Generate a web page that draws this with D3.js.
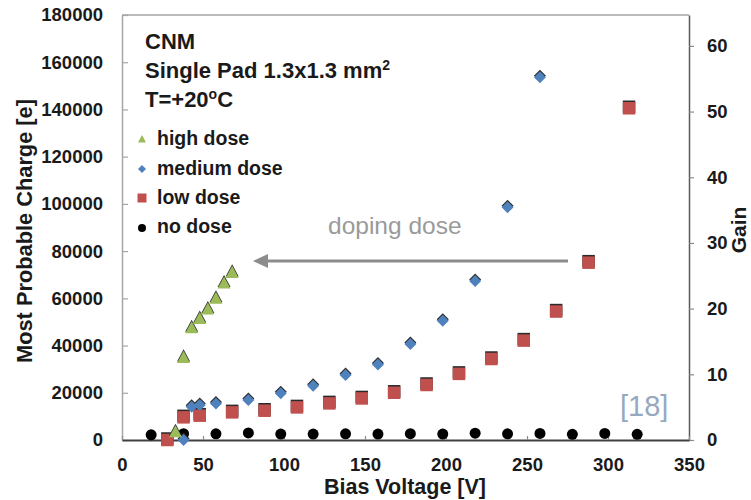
<!DOCTYPE html>
<html>
<head>
<meta charset="utf-8">
<script src="https://cdn.jsdelivr.net/npm/d3@7"></script>
<style>
  html, body { margin: 0; padding: 0; background: #fff; }
  svg { display: block; }
  text { font-family: "Liberation Sans", Arial, sans-serif; }
</style>
</head>
<body>
<svg id="chart" width="751" height="500"></svg>
<script>
// ---- data ----
const voltHigh   = [33, 38, 43, 48, 53, 58, 63, 68];
const chargeHigh = [3500, 35000, 47500, 51500, 55500, 60000, 66500, 71000];

const voltMedium   = [38, 43, 48, 58, 78, 98, 118, 138, 158, 178, 198, 218, 238, 258];
const chargeMedium = [0, 14100, 14800, 15500, 16900, 19800, 23000, 27500, 32000, 40700, 50500, 67300, 98600, 153600];

const voltLow   = [28, 38, 48, 68, 88, 108, 128, 148, 168, 188, 208, 228, 248, 268, 288, 313];
const chargeLow = [0, 9600, 10300, 11700, 12400, 13800, 15500, 17600, 20000, 23300, 28000, 34300, 42100, 54400, 75100, 140500];

const voltNone   = [18, 38, 58, 78, 98, 118, 138, 158, 178, 198, 218, 238, 258, 278, 298, 318];
const chargeNone = [2200, 2700, 2600, 3000, 2500, 2500, 2600, 2500, 2700, 2500, 2900, 2600, 2800, 2400, 2800, 2400];

const xTicks    = [0, 50, 100, 150, 200, 250, 300, 350];
const yTicks    = [0, 20000, 40000, 60000, 80000, 100000, 120000, 140000, 160000, 180000];
const gainTicks = [0, 10, 20, 30, 40, 50, 60];
const xMax = 350, yMax = 180000, gainMax = 64.7;

const seriesNames  = ["high dose", "medium dose", "low dose", "no dose"];
const seriesColors = ["#9bbb59", "#4f81bd", "#c0504d", "#000000"];
const seriesShapes = ["triangle", "diamond", "square", "circle"];

// ---- layout ----
const L = 122, R = 689, T = 15, B = 440;
const svg = d3.select("#chart");
const x  = d3.scaleLinear().domain([0, xMax]).range([L, R]);
const y  = d3.scaleLinear().domain([0, yMax]).range([B, T]);
const y2 = d3.scaleLinear().domain([0, gainMax]).range([B, T]);

const INK = "#1a1a1a";
const FONT = "'Liberation Sans', Arial, sans-serif";

function shapePath(shape, s) {
  const h = s / 2;
  if (shape === "square") return `M${-h},${-h}H${h}V${h}H${-h}Z`;
  if (shape === "diamond") return `M0,${-h}L${h},0L0,${h}L${-h},0Z`;
  if (shape === "triangle") return `M0,${-h}L${h},${h*0.85}L${-h},${h*0.85}Z`;
  return d3.symbol().type(d3.symbolCircle).size(Math.PI * h * h)();
}

// frame top line
svg.append("line").attr("x1", L).attr("x2", R).attr("y1", T).attr("y2", T)
  .attr("stroke", "#a6a6a6").attr("stroke-width", 1.5);

function styleTicks(g) {
  g.selectAll(".tick text").attr("font-size", 18.5).attr("font-weight", 700).attr("fill", INK)
    .style("font-family", FONT);
}

// left axis
const gL = svg.append("g").attr("transform", `translate(${L},0)`)
  .call(d3.axisLeft(y).tickValues(yTicks).tickFormat(d3.format("d")).tickSizeInner(-6).tickSizeOuter(0).tickPadding(19));
gL.select(".domain").attr("stroke", "#a6a6a6").attr("stroke-width", 1.5);
gL.selectAll(".tick line").attr("stroke", "#a6a6a6").attr("stroke-width", 1.2);
styleTicks(gL);

// right axis
const gR = svg.append("g").attr("transform", `translate(${R},0)`)
  .call(d3.axisRight(y2).tickValues(gainTicks).tickFormat(d3.format("d")).tickSizeInner(5).tickSizeOuter(0).tickPadding(13));
gR.select(".domain").attr("stroke", "#595959").attr("stroke-width", 1.5);
gR.selectAll(".tick line").attr("stroke", "#8c8c8c").attr("stroke-width", 1.2);
styleTicks(gR);

// bottom axis
const gB = svg.append("g").attr("transform", `translate(0,${B})`)
  .call(d3.axisBottom(x).tickValues(xTicks).tickFormat(d3.format("d")).tickSizeInner(-4).tickSizeOuter(0).tickPadding(18));
gB.select(".domain").attr("stroke", "#404040").attr("stroke-width", 2);
gB.selectAll(".tick line").attr("stroke", "#8c8c8c").attr("stroke-width", 1.2);
styleTicks(gB);

// axis titles
svg.append("text").attr("x", 405).attr("y", 494).attr("text-anchor", "middle")
  .attr("font-size", 21.5).attr("font-weight", 700).attr("fill", INK).text("Bias Voltage [V]");
svg.append("text").attr("transform", "translate(32,231) rotate(-90)").attr("text-anchor", "middle")
  .attr("font-size", 21.8).attr("font-weight", 700).attr("fill", INK).text("Most Probable Charge [e]");
svg.append("text").attr("transform", "translate(745.5,230) rotate(-90)").attr("text-anchor", "middle")
  .attr("font-size", 21).attr("font-weight", 700).attr("fill", INK).text("Gain");

// annotation text
const ann = svg.append("g").attr("font-size", 22).attr("font-weight", 700).attr("fill", INK);
ann.append("text").attr("x", 145).attr("y", 49).text("CNM");
const t2 = ann.append("text").attr("x", 145).attr("y", 78);
t2.append("tspan").text("Single Pad 1.3x1.3 mm");
t2.append("tspan").attr("dy", -8).attr("font-size", 14).text("2");
const t3 = ann.append("text").attr("x", 145).attr("y", 107);
t3.append("tspan").text("T=+20");
t3.append("tspan").attr("dy", -8).attr("font-size", 14).text("o");
t3.append("tspan").attr("dy", 8).text("C");

// legend
const legY = [139, 169, 198, 228];
const legTextY = [145, 175, 204, 233];
seriesNames.forEach((name, i) => {
  svg.append("path").attr("d", shapePath(seriesShapes[i], seriesShapes[i] === "square" ? 9 : 8))
    .attr("transform", `translate(142,${legY[i]})`).attr("fill", seriesColors[i]);
  svg.append("text").attr("x", 157).attr("y", legTextY[i]).attr("font-size", 19.5).attr("font-weight", 700)
    .attr("fill", INK).text(name);
});

// doping dose arrow
svg.append("text").attr("x", 328).attr("y", 234).attr("font-size", 24.5).attr("fill", "#9a9a9a")
  .text("doping dose");
svg.append("line").attr("x1", 568).attr("x2", 262).attr("y1", 261).attr("y2", 261)
  .attr("stroke", "#8c8c8c").attr("stroke-width", 3);
svg.append("path").attr("d", "M253,261L268,254L268,268Z").attr("fill", "#8c8c8c");

// reference tag
svg.append("text").attr("x", 620).attr("y", 416).attr("font-size", 29).attr("fill", "#97a9bf")
  .text("[18]");

// data series
const series = [
  { v: voltNone, q: chargeNone, i: 3 },
  { v: voltLow, q: chargeLow, i: 2 },
  { v: voltMedium, q: chargeMedium, i: 1 },
  { v: voltHigh, q: chargeHigh, i: 0 }
];
const sizes = { triangle: 13, diamond: 12, square: 12.5, circle: 11 };
series.forEach(s => {
  const shape = seriesShapes[s.i];
  const pts = s.v.map((v, k) => ({ v, q: s.q[k] }));
  const g = svg.append("g");
  if (shape !== "circle") {
    g.selectAll("path.sh").data(pts).enter().append("path").attr("class", "sh")
      .attr("d", shapePath(shape, sizes[shape]))
      .attr("transform", d => `translate(${x(d.v)},${y(d.q) - 1.5})`)
      .attr("fill", "#2a2a2a");
  }
  g.selectAll("path.mk").data(pts).enter().append("path").attr("class", "mk")
    .attr("d", shapePath(shape, sizes[shape]))
    .attr("transform", d => `translate(${x(d.v)},${y(d.q)})`)
    .attr("fill", seriesColors[s.i]);
});
</script>
</body>
</html>
